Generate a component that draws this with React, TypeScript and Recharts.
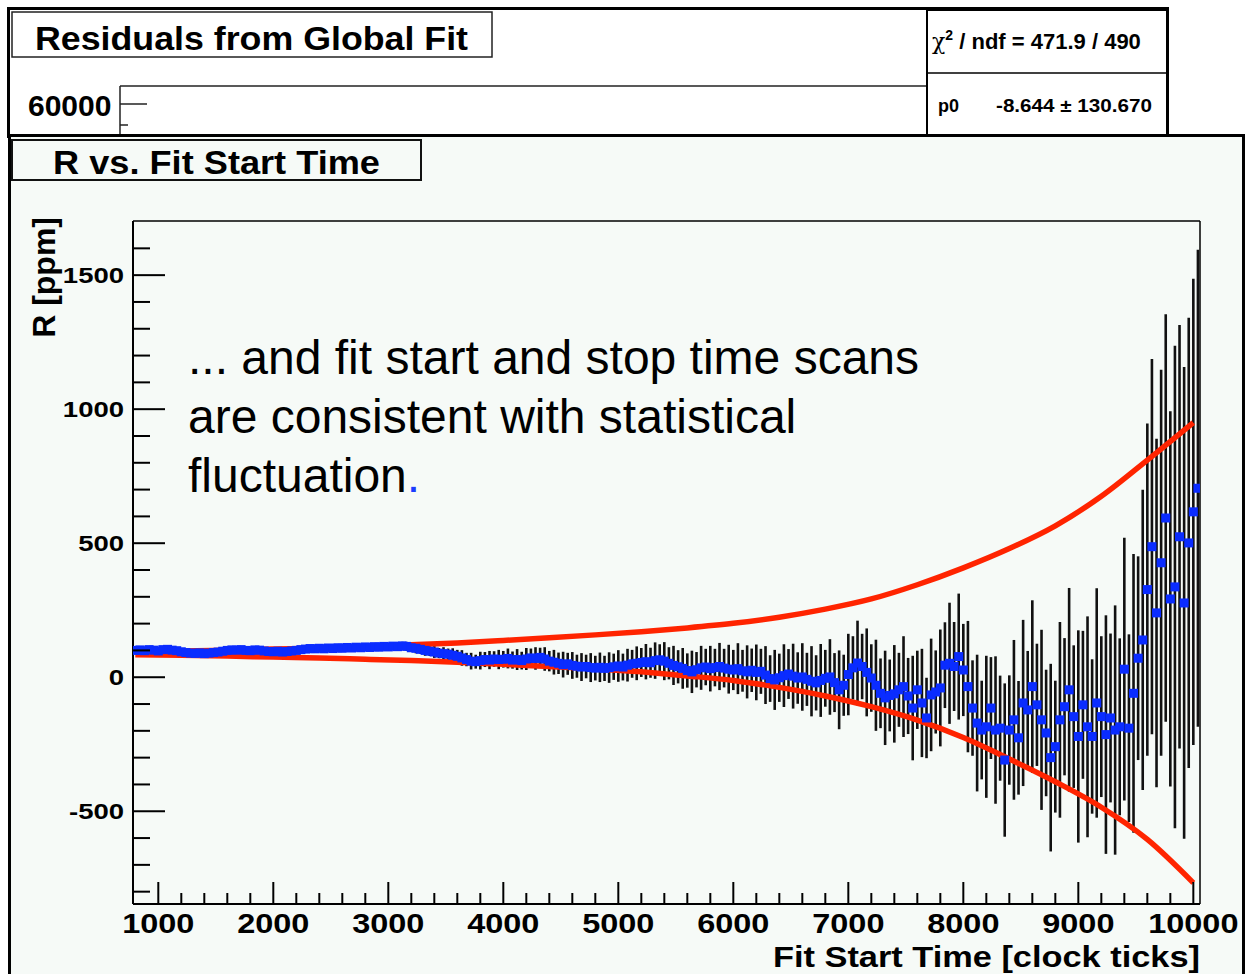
import React from "react";
import {
  ComposedChart,
  XAxis,
  YAxis,
  Scatter,
  Line,
  ErrorBar,
  ReferenceLine,
  Label,
} from "recharts";

// fit start time scan: first point and step, in clock ticks
const scanStart = 800;
const scanStep = 40;

// R [ppm] for each start time (rows of 10 points = 400 ticks)
const rValues = [
  100, 102, 99, 103, 101, 98, 103, 104, 101, 99,
  95, 92, 90, 89, 91, 88, 90, 92, 94, 97,
  100, 102, 101, 103, 100, 99, 102, 101, 98, 96,
  95, 97, 94, 96, 98, 100, 103, 105, 107, 106,
  108, 106, 109, 107, 110, 108, 111, 109, 112, 110,
  113, 111, 114, 112, 115, 113, 116, 114, 117, 115,
  110, 108, 104, 100, 97, 94, 90, 88, 86, 82,
  78, 72, 66, 60, 58, 62, 66, 64, 68, 66,
  67, 70, 64, 66, 62, 68, 72, 70, 74, 68,
  60, 56, 52, 47, 50, 44, 41, 38, 40, 36,
  34, 37, 33, 36, 39, 42, 38, 45, 50, 52,
  55, 58, 54, 62, 65, 60, 52, 44, 39, 33,
  25, 20, 28, 35, 38, 32, 36, 40, 34, 30,
  27, 32, 24, 20, 26, 18, 22, 8, -5, -10,
  -2, 6, 12, 4, -3, 1, -8, -15, -21, -12,
  -4, 1, -20, -47, -30, 10, 35, 53, 40, 18,
  -3, -30, -60, -77, -68, -62, -47, -35, -70, -115,
  -47, -96, -152, -66, -55, -40, 45, 52, 40, 77,
  27, -35, -115, -171, -197, -185, -115, -197, -190, -309,
  -197, -159, -226, -96, -122, -35, -103, -159, -208, -300,
  -259, -159, -110, -47, -147, -221, -103, -185, -221, -96,
  -147, -214, -152, -197, -185, 30, -190, -60, 71, 139,
  327, 487, 240, 427, 594, 292, 337, 524, 277, 501,
  617, 705,
];

// statistical error on R [ppm]
const rErrors = [
  4, 5, 4, 5, 4, 5, 4, 5, 5, 5,
  5, 5, 6, 5, 6, 5, 6, 6, 6, 6,
  6, 7, 6, 7, 6, 7, 7, 7, 8, 7,
  8, 8, 9, 8, 9, 8, 9, 9, 10, 9,
  10, 9, 11, 10, 11, 10, 12, 11, 12, 11,
  12, 13, 12, 14, 13, 15, 14, 16, 15, 17,
  16, 19, 17, 20, 18, 22, 19, 24, 21, 26,
  24, 29, 25, 31, 26, 33, 28, 34, 29, 36,
  31, 37, 32, 39, 33, 41, 35, 42, 36, 44,
  38, 46, 40, 48, 41, 50, 43, 52, 44, 54,
  46, 55, 47, 57, 49, 59, 50, 61, 52, 63,
  54, 66, 56, 68, 58, 71, 60, 73, 62, 76,
  64, 79, 66, 82, 68, 85, 70, 88, 72, 91,
  75, 95, 78, 99, 81, 104, 84, 108, 87, 112,
  90, 117, 93, 121, 96, 126, 99, 131, 103, 136,
  106, 141, 110, 147, 114, 152, 118, 158, 122, 164,
  126, 170, 130, 176, 134, 182, 138, 188, 142, 195,
  146, 202, 150, 210, 155, 218, 160, 226, 166, 235,
  172, 245, 178, 255, 184, 265, 190, 275, 196, 286,
  204, 298, 212, 310, 220, 322, 228, 336, 236, 350,
  246, 365, 256, 380, 266, 396, 276, 412, 288, 428,
  300, 445, 315, 465, 330, 490, 350, 520, 380, 560,
  620, 700, 650, 720, 760, 700, 900, 790, 880, 840,
  870, 890,
];

// allowed statistical fluctuation band (red curves)
const bandTimes = [
  800, 1200, 1600, 2000, 2400, 2800, 3200, 3600, 4000, 4400, 4800, 5200,
  5600, 6000, 6400, 6800, 7200, 7600, 8000, 8400, 8800, 9200, 9600, 10000,
];
const bandUpper = [
  96, 98, 101, 105, 109, 115, 121, 128, 137, 147, 158, 170,
  184, 201, 224, 254, 292, 345, 408, 480, 565, 675, 810, 950,
];
const bandLower = [
  84, 82, 79, 75, 72, 67, 62, 56, 48, 40, 32, 20,
  5, -12, -38, -70, -110, -160, -225, -305, -390, -485, -605, -767,
];

const xMajorTicks = [1000, 2000, 3000, 4000, 5000, 6000, 7000, 8000, 9000, 10000];
const yMajorTicks = [-500, 0, 500, 1000, 1500];

const xDomain = [780, 10058];
const yDomain = [-846, 1702];

const points = rValues.map((r, i) => ({
  x: scanStart + scanStep * i,
  y: r,
  err: rErrors[i],
}));
const upperPts = bandTimes.map((t, i) => ({ x: t, y: bandUpper[i] }));
const lowerPts = bandTimes.map((t, i) => ({ x: t, y: bandLower[i] }));

const xTicks: number[] = [];
for (let t = 1000; t <= 10000; t += 200) xTicks.push(t);
const yTicks: number[] = [];
for (let v = -800; v <= 1600; v += 100) yTicks.push(v);

const FONT = '"Liberation Sans", Arial, Helvetica, sans-serif';
const BLUE = "#0a2cff";
const RED = "#ff2400";
const PANEL = "#f6faf7";

function XTick(props: any) {
  const { x, y, payload } = props;
  const major = xMajorTicks.includes(payload.value);
  return (
    <g>
      <line x1={x} x2={x} y1={y} y2={y - (major ? 22 : 11)} stroke="#000" strokeWidth={2} />
      {major && (
        <text
          transform={`translate(${x},${y + 29}) scale(1.16,1)`}
          textAnchor="middle"
          fontFamily={FONT}
          fontWeight="bold"
          fontSize={28}
          fill="#000"
        >
          {payload.value}
        </text>
      )}
    </g>
  );
}

function YTick(props: any) {
  const { x, y, payload } = props;
  const major = yMajorTicks.includes(payload.value);
  return (
    <g>
      <line x1={x} x2={x + (major ? 32 : 17)} y1={y} y2={y} stroke="#000" strokeWidth={2} />
      {major && (
        <text
          transform={`translate(${x - 9},${y + 8}) scale(1.25,1)`}
          textAnchor="end"
          fontFamily={FONT}
          fontWeight="bold"
          fontSize={22}
          fill="#000"
        >
          {payload.value}
        </text>
      )}
    </g>
  );
}

function Marker(props: any) {
  const { cx, cy } = props;
  if (cx == null || cy == null) return null;
  return <rect x={cx - 4.5} y={cy - 4.5} width={9} height={9} fill={BLUE} />;
}

function Backdrop() {
  return (
    <svg
      width={1247}
      height={974}
      style={{ position: "absolute", left: 0, top: 0 }}
    >
      <rect x={0} y={0} width={1247} height={974} fill="#fff" />
      {/* background canvas: residuals from global fit */}
      <rect x={8.5} y={8.5} width={1159} height={128} fill="#fff" stroke="#000" strokeWidth={3} />
      <rect x={12} y={12} width={480} height={45} fill="#fff" stroke="#222" strokeWidth={1.5} />
      <text x={35} y={50} fontFamily={FONT} fontWeight="bold" fontSize={33} textLength={433} lengthAdjust="spacingAndGlyphs">
        Residuals from Global Fit
      </text>
      <line x1={120} y1={86} x2={927} y2={86} stroke="#222" strokeWidth={1.5} />
      <line x1={120} y1={86} x2={120} y2={136} stroke="#222" strokeWidth={1.5} />
      <line x1={120} y1={104} x2={147} y2={104} stroke="#222" strokeWidth={1.5} />
      <line x1={120} y1={125} x2={128} y2={125} stroke="#222" strokeWidth={1.5} />
      <text x={28} y={116} fontFamily={FONT} fontWeight="bold" fontSize={30}>
        60000
      </text>
      <rect x={927} y={10} width={240} height={126} fill="#fff" stroke="#000" strokeWidth={2} />
      <line x1={927} y1={73} x2={1167} y2={73} stroke="#000" strokeWidth={1.5} />
      <text x={932} y={49} fontFamily={FONT} fontWeight="bold" fontSize={22}>
        <tspan fontFamily='"DejaVu Serif", serif' fontWeight="normal">χ</tspan>
        <tspan fontSize={14} dy={-9}>2</tspan>
        <tspan dy={9}> / ndf = 471.9 / 490</tspan>
      </text>
      <text x={938} y={112} fontFamily={FONT} fontWeight="bold" fontSize={18}>
        p0
      </text>
      <text x={996} y={112} fontFamily={FONT} fontWeight="bold" fontSize={19} textLength={156} lengthAdjust="spacingAndGlyphs">
        -8.644 ± 130.670
      </text>
      {/* foreground canvas */}
      <rect x={9.5} y={135.5} width={1234} height={860} fill={PANEL} stroke="#000" strokeWidth={3} />
      <rect x={12} y={140} width={409} height={40} fill={PANEL} stroke="#111" strokeWidth={2} />
      <text x={53} y={174} fontFamily={FONT} fontWeight="bold" fontSize={33} textLength={327} lengthAdjust="spacingAndGlyphs">
        R vs. Fit Start Time
      </text>
    </svg>
  );
}

export default function App() {
  return (
    <div style={{ position: "absolute", left: 0, top: 0, width: 1247, height: 974, overflow: "hidden" }}>
      <Backdrop />
      <div style={{ position: "absolute", left: 0, top: 0 }}>
        <ComposedChart
          width={1247}
          height={974}
          margin={{ top: 221, right: 47, bottom: 40, left: 73 }}
        >
          <XAxis
            type="number"
            dataKey="x"
            domain={xDomain}
            allowDataOverflow
            ticks={xTicks}
            interval={0}
            tickSize={0}
            tickMargin={0}
            tickLine={false}
            tick={XTick}
            height={30}
            axisLine={{ stroke: "#000", strokeWidth: 2 }}
          >
            <Label
              content={(p: any) => {
                const vb = p.viewBox;
                return (
                  <text
                    x={vb.x + vb.width}
                    y={vb.y + 63}
                    textAnchor="end"
                    fontFamily={FONT}
                    fontWeight="bold"
                    fontSize={30}
                    textLength={427}
                    lengthAdjust="spacingAndGlyphs"
                  >
                    Fit Start Time [clock ticks]
                  </text>
                );
              }}
            />
          </XAxis>
          <YAxis
            type="number"
            domain={yDomain}
            allowDataOverflow
            ticks={yTicks}
            interval={0}
            tickSize={0}
            tickMargin={0}
            tickLine={false}
            tick={YTick}
            width={60}
            axisLine={{ stroke: "#000", strokeWidth: 2 }}
          >
            <Label
              content={(p: any) => {
                const vb = p.viewBox;
                return (
                  <text
                    transform={`translate(${vb.x - 18},${vb.y - 4}) rotate(-90)`}
                    textAnchor="end"
                    fontFamily={FONT}
                    fontWeight="bold"
                    fontSize={32}
                  >
                    R [ppm]
                  </text>
                );
              }}
            />
          </YAxis>
          <ReferenceLine y={yDomain[1]} stroke="#000" strokeWidth={1.5} />
          <ReferenceLine x={xDomain[1]} stroke="#000" strokeWidth={1.5} />
          <Scatter data={points} dataKey="y" fill={BLUE} shape={Marker} isAnimationActive={false}>
            <ErrorBar dataKey="err" direction="y" width={0} stroke="#111" strokeWidth={2.6} isAnimationActive={false} />
          </Scatter>
          <Line data={upperPts} dataKey="y" type="monotone" stroke={RED} strokeWidth={5.5} dot={false} isAnimationActive={false} />
          <Line data={lowerPts} dataKey="y" type="monotone" stroke={RED} strokeWidth={5.5} dot={false} isAnimationActive={false} />
        </ComposedChart>
      </div>
      <div
        style={{
          position: "absolute",
          left: 188,
          top: 328,
          fontFamily: FONT,
          fontSize: 48,
          lineHeight: "59px",
          color: "#000",
          whiteSpace: "nowrap",
        }}
      >
        ... and fit start and stop time scans
        <br />
        are consistent with statistical
        <br />
        fluctuation<span style={{ color: "#1a3cff" }}>.</span>
      </div>
    </div>
  );
}
